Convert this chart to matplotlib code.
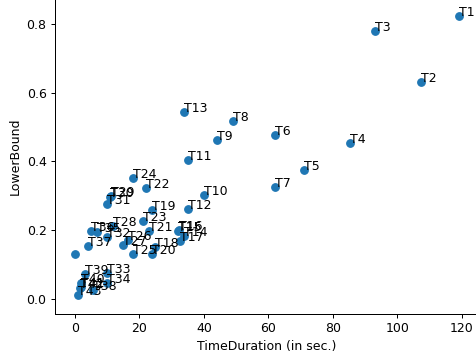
import matplotlib
matplotlib.use("Agg")
import matplotlib.pyplot as plt

# task durations (s) and their lower bounds, one entry per task
names = ["T1", "T2", "T3", "T4", "T5", "T6", "T7", "T8", "T9", "T10",
         "T11", "T12", "T13", "T14", "T15", "T16", "T17", "T18", "T19", "T20",
         "T21", "T22", "T23", "T24", "T25", "T26", "T27", "T28", "T29", "T30",
         "T31", "T32", "T33", "T34", "T35", "T36", "T37", "T38", "T39", "T40",
         "T41", "T42", "T43", ""]
duration = [119.1, 107.2, 93.1, 85.2, 71.1, 61.9, 61.9, 49.0, 43.9, 39.9,
            35.0, 35.0, 33.9, 33.8, 32.0, 32.3, 32.6, 24.8, 23.8, 24.0,
            23.1, 22.0, 21.0, 18.1, 18.1, 16.5, 15.0, 11.9, 11.2, 10.9,
            9.8, 9.8, 10.0, 9.8, 6.7, 5.0, 3.9, 5.5, 3.0, 1.8,
            2.0, 1.5, 0.8, 0.0]
lower_bound = [0.825, 0.631, 0.780, 0.453, 0.376, 0.478, 0.325, 0.518, 0.462, 0.301,
               0.403, 0.261, 0.543, 0.183, 0.197, 0.201, 0.168, 0.150, 0.259, 0.130,
               0.197, 0.322, 0.225, 0.353, 0.130, 0.171, 0.157, 0.212, 0.299, 0.296,
               0.275, 0.179, 0.075, 0.045, 0.195, 0.197, 0.154, 0.025, 0.072, 0.045,
               0.035, 0.030, 0.010, 0.130]

DPI = 90
fig = plt.figure(figsize=(476 / DPI, 357 / DPI), dpi=DPI)
ax = fig.add_axes([0.1162, 0.1213, 0.890, 0.8815])

ax.scatter(duration, lower_bound)
for name, x, y in zip(names, duration, lower_bound):
    if name:
        ax.annotate(name, (x, y))

ax.set_xlim(-6.1, 125.3)
ax.set_ylim(-0.044, 0.874)
ax.set_xlabel("TimeDuration (in sec.)")
ax.set_ylabel("LowerBound")

fig.savefig("out.png", dpi=DPI)
